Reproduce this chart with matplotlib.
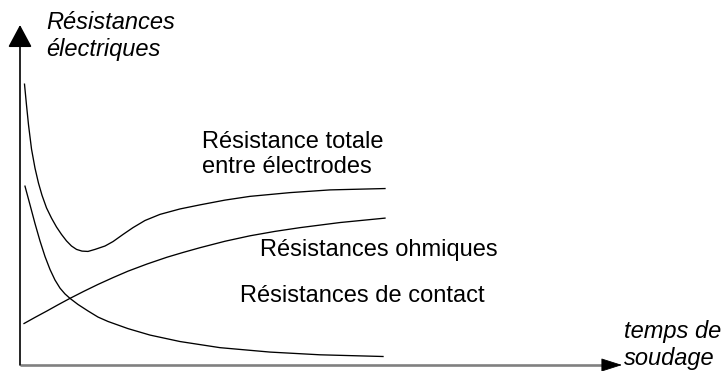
import matplotlib
matplotlib.use('Agg')
import matplotlib.pyplot as plt

plt.rcParams['font.family'] = ['Liberation Sans', 'DejaVu Sans']

t_totale = [0.75, 1.08, 1.42, 1.92, 2.5, 3.08, 3.67, 4.42, 5.25, 6.08, 6.92, 7.75,
            8.58, 9.42, 10.33, 11.33, 12.5, 14.17, 15.5, 17.17, 18.83, 20.83,
            23.33, 26.67, 30.0, 34.17, 38.33, 45.0, 51.67, 60.83]
r_totale = [82.6, 76.5, 70.6, 63.5, 57.9, 53.5, 49.9, 46.2, 43.2, 40.6, 38.4, 36.5,
            35.0, 34.0, 33.5, 33.4, 34.0, 35.0, 36.3, 38.4, 40.4, 42.5,
            44.3, 45.9, 47.1, 48.5, 49.6, 50.7, 51.5, 51.9]

t_ohmique = [0.67, 2.5, 4.5, 6.33, 8.33, 10.67, 13.0, 15.5, 18.0, 21.17, 24.5,
             27.17, 30.0, 34.17, 38.33, 42.5, 46.67, 53.33, 60.83]
r_ohmique = [12.2, 14.0, 15.9, 17.7, 19.6, 21.7, 23.7, 25.7, 27.6, 29.7, 31.7,
             33.1, 34.5, 36.4, 38.0, 39.3, 40.4, 41.9, 43.2]

t_contact = [0.83, 1.67, 2.5, 3.33, 4.17, 5.0, 5.83, 6.67, 7.5, 8.33, 9.67, 11.33,
             13.0, 14.67, 18.0, 21.67, 26.67, 33.33, 41.67, 50.0, 60.5]
r_contact = [52.6, 47.1, 41.6, 36.5, 31.9, 28.1, 25.0, 22.6, 20.9, 19.6, 17.8, 15.9,
             14.1, 12.8, 10.7, 8.8, 6.9, 5.1, 3.8, 3.0, 2.5]

label_totale = "Résistance totale\nentre électrodes"
label_ohmique = "Résistances ohmiques"
label_contact = "Résistances de contact"
titre_y = "Résistances\nélectriques"
titre_x = "temps de\nsoudage"

W, H = 723, 371

fig = plt.figure(figsize=(W / 100, H / 100), dpi=100)
ax = fig.add_axes([20 / W, 6 / H, 602 / W, 340 / H])
ax.set_xlim(0, 100.33)
ax.set_ylim(0, 100)
ax.axis('off')

# courbes
for t, r in [(t_totale, r_totale), (t_ohmique, r_ohmique), (t_contact, r_contact)]:
    ax.plot(t, r, color='black', lw=0.95, solid_joinstyle='round')

# axe vertical avec fleche
ax.annotate('', xy=(0, 1), xytext=(0, 0), xycoords='axes fraction',
            arrowprops=dict(arrowstyle='-|>,head_length=14,head_width=7.5',
                            mutation_scale=1, color='black', lw=1.2,
                            shrinkA=0, shrinkB=0))

# axe horizontal gris, pointe noire
ax.plot([0, 0.968], [0, 0], transform=ax.transAxes, color='#808080', lw=1.9,
        solid_capstyle='butt', clip_on=False)
ax.annotate('', xy=(1, 0), xytext=(0.968, 0), xycoords='axes fraction',
            arrowprops=dict(arrowstyle='-|>,head_length=13.5,head_width=4.3',
                            mutation_scale=1, color='black', lw=0.6,
                            shrinkA=0, shrinkB=0))

# etiquettes des courbes (va='baseline' -> ligne du bas)
fs = 17
ax.text(30.3, 56.5, label_totale, fontsize=fs, va='baseline', ha='left',
        linespacing=1.2)
ax.text(40.0, 32.1, label_ohmique, fontsize=fs, va='baseline', ha='left')
ax.text(36.7, 18.6, label_contact, fontsize=fs, va='baseline', ha='left')

# titres des axes
fig.text(46 / W, 1 - 56 / H, titre_y, fontsize=fs, style='italic',
         va='baseline', ha='left', linespacing=1.2)
fig.text(624 / W, 1 - 365 / H, titre_x, fontsize=fs, style='italic',
         va='baseline', ha='left', linespacing=1.2)

fig.savefig('out.png', dpi=100, facecolor='white')
